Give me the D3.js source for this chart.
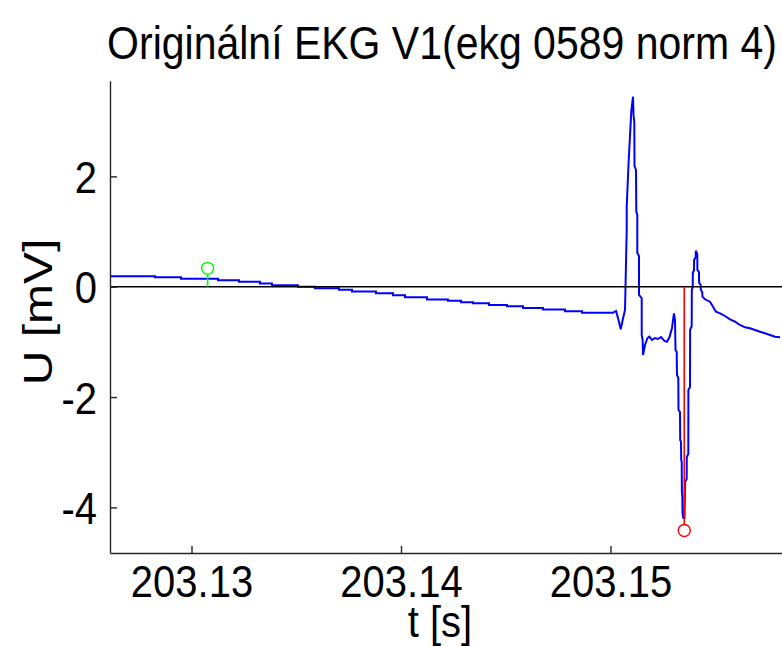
<!DOCTYPE html>
<html>
<head>
<meta charset="utf-8">
<script src="https://cdn.jsdelivr.net/npm/d3@7"></script>
<style>
  html, body { margin: 0; padding: 0; background: #fff; }
  svg text { font-family: "Liberation Sans", Arial, Helvetica, sans-serif; fill: #000; }
</style>
</head>
<body>
<svg id="chart" width="782" height="646"></svg>
<script>
// ---- data ----
const titleText = "Originální EKG V1(ekg 0589 norm 4)";
const xLabel = "t [s]";
const yLabel = "U [mV]";
const xTicks = [203.13, 203.14, 203.15];
const yTicks = [-4, -2, 0, 2];
const xDomain = [203.12611, 203.158186];
const yDomain = [-4.827, 3.734];

// slow baseline (quantised samples, step levels)
const baseT = [203.126110, 203.128258, 203.129499, 203.131265, 203.132267, 203.133270,
  203.133842, 203.135084, 203.135895, 203.137041, 203.137661, 203.138807, 203.139618,
  203.140191, 203.141241, 203.142243, 203.142864, 203.143437, 203.144200, 203.145060,
  203.145823, 203.146778, 203.147828, 203.148640, 203.150057];
const baseU = [0.19, 0.17, 0.145, 0.115, 0.09, 0.06,
  0.025, 0.00, -0.03, -0.055, -0.085, -0.12, -0.155,
  -0.19, -0.23, -0.255, -0.28, -0.30, -0.33, -0.355,
  -0.385, -0.415, -0.445, -0.47, -0.482];

// QRS complex and T decay
const qrsT = [203.150057, 203.150263, 203.150358, 203.150487, 203.150582, 203.150692,
  203.150716, 203.150773, 203.150773, 203.150869, 203.150931, 203.150993, 203.151074,
  203.151098, 203.151136, 203.151146, 203.151217, 203.151232, 203.151279, 203.151279,
  203.151360, 203.151360, 203.151489, 203.151489, 203.151537, 203.151551, 203.151647,
  203.151766, 203.151852, 203.151981, 203.152124, 203.152267, 203.152411, 203.152578,
  203.152697, 203.152816, 203.152936, 203.152983, 203.153031, 203.153079, 203.153103,
  203.153160, 203.153174, 203.153236, 203.153246, 203.153317, 203.153327, 203.153365,
  203.153375, 203.153399, 203.153408, 203.153427, 203.153437, 203.153475, 203.153532,
  203.153556, 203.153637, 203.153642, 203.153714, 203.153718, 203.153795, 203.153800,
  203.153876, 203.153881, 203.153924, 203.153929, 203.153986, 203.153990, 203.154067,
  203.154072, 203.154143, 203.154148, 203.154224, 203.154229, 203.154305, 203.154310,
  203.154382, 203.154387, 203.154511, 203.154749, 203.154893, 203.155036, 203.155227,
  203.155465, 203.155704, 203.155943, 203.156181, 203.156420, 203.156659, 203.156897,
  203.157136, 203.157375, 203.157613, 203.157852, 203.158091];
const qrsU = [-0.482, -0.440, -0.567, -0.772, -0.604, -0.422,
  -0.005, 1.028, 1.445, 2.297, 2.732, 3.185, 3.444,
  3.112, 2.985, 2.188, 2.115, 1.359, 1.300, 0.611,
  0.556, -0.150, -0.205, -0.875, -0.966, -1.238, -1.057,
  -0.930, -0.906, -0.966, -0.930, -0.948, -0.912, -0.984,
  -0.997, -0.912, -0.749, -0.604, -0.482, -0.604, -1.147,
  -1.184, -1.601, -1.655, -2.235, -2.271, -2.779, -2.815,
  -3.141, -3.177, -3.739, -3.776, -4.102, -4.193, -4.193,
  -3.540, -3.486, -3.087, -3.032, -1.872, -1.818, -0.785,
  -0.712, -0.060, -0.005, 0.248, 0.303, 0.484, 0.538,
  0.653, 0.593, 0.303, 0.266, 0.073, 0.031, -0.060,
  -0.096, -0.181, -0.228, -0.272, -0.363, -0.453, -0.482,
  -0.531, -0.591, -0.634, -0.694, -0.736, -0.754, -0.785,
  -0.816, -0.845, -0.875, -0.906, -0.917];

// detected markers
const markerT = [203.13077, 203.15352];
const markerU = [0.333, -4.42];
const markerColor = ["#00ff00", "#ff0000"];

// ---- drawing ----
const svg = d3.select("#chart");
const plot = { left: 110, right: 782, top: 80.7, bottom: 553 };
const stretch = 1.12;   // glyphs in the reference are vertically elongated
const stretchY = 1.2;   // along the rotated y label

const x = d3.scaleLinear().domain(xDomain).range([plot.left, plot.right]);
const y = d3.scaleLinear().domain(yDomain).range([plot.bottom, plot.top]);

const axisColor = "#262626";

// signal
const base = baseT.map((t, i) => [t, baseU[i]]);
const qrs = qrsT.map((t, i) => [t, qrsU[i]]);

svg.append("path")
  .datum(base)
  .attr("fill", "none")
  .attr("stroke", "#0000ff")
  .attr("stroke-width", 2)
  .attr("d", d3.line().x(d => x(d[0])).y(d => y(d[1])).curve(d3.curveStepAfter));

svg.append("path")
  .datum(qrs)
  .attr("fill", "none")
  .attr("stroke", "#0000ff")
  .attr("stroke-width", 2)
  .attr("d", d3.line().x(d => x(d[0])).y(d => y(d[1])));

// zero line
svg.append("line")
  .attr("x1", plot.left).attr("x2", plot.right)
  .attr("y1", y(0)).attr("y2", y(0))
  .attr("stroke", "#000").attr("stroke-width", 1.4);

// stems with circle markers
markerT.forEach((t, i) => {
  svg.append("line")
    .attr("x1", x(t)).attr("x2", x(t))
    .attr("y1", y(0)).attr("y2", y(markerU[i]) + (markerU[i] > 0 ? 6 : -6))
    .attr("stroke", markerColor[i]).attr("stroke-width", 1.6);
  svg.append("circle")
    .attr("cx", x(t)).attr("cy", y(markerU[i])).attr("r", 6)
    .attr("fill", "none").attr("stroke", markerColor[i]).attr("stroke-width", 1.4);
});

// axes
const gx = svg.append("g")
  .attr("transform", `translate(0,${plot.bottom})`)
  .call(d3.axisBottom(x).tickValues(xTicks).tickFormat(d3.format(".2f"))
    .tickSizeInner(-7).tickSizeOuter(0));
const gy = svg.append("g")
  .attr("transform", `translate(${plot.left},0)`)
  .call(d3.axisLeft(y).tickValues(yTicks).tickFormat(d => d < 0 ? "-" + Math.abs(d) : String(d))
    .tickSizeInner(-7).tickSizeOuter(0));

[gx, gy].forEach(g => {
  g.select(".domain").attr("stroke", axisColor).attr("stroke-width", 1.4);
  g.selectAll(".tick line").attr("stroke", axisColor).attr("stroke-width", 1.4);
  g.selectAll(".tick text").attr("font-size", 40)
    .attr("font-family", "Liberation Sans, Arial, sans-serif").attr("fill", "#000")
    .attr("x", null).attr("y", null).attr("dy", null);
});
gx.selectAll(".tick text").attr("transform", `translate(0,44) scale(1,${stretch})`);
gy.selectAll(".tick text").attr("transform", `translate(-13,16) scale(1,${stretch})`);

// title and labels
svg.append("text")
  .attr("transform", `translate(442,59) scale(1,${stretch})`)
  .attr("text-anchor", "middle").attr("font-size", 41)
  .text(titleText);

svg.append("text")
  .attr("transform", `translate(440,637) scale(1,${stretch})`)
  .attr("text-anchor", "middle").attr("font-size", 40)
  .text(xLabel);

svg.append("text")
  .attr("transform", `translate(52,312) rotate(-90) scale(${stretchY},1)`)
  .attr("text-anchor", "middle").attr("font-size", 40)
  .text(yLabel);
</script>
</body>
</html>
